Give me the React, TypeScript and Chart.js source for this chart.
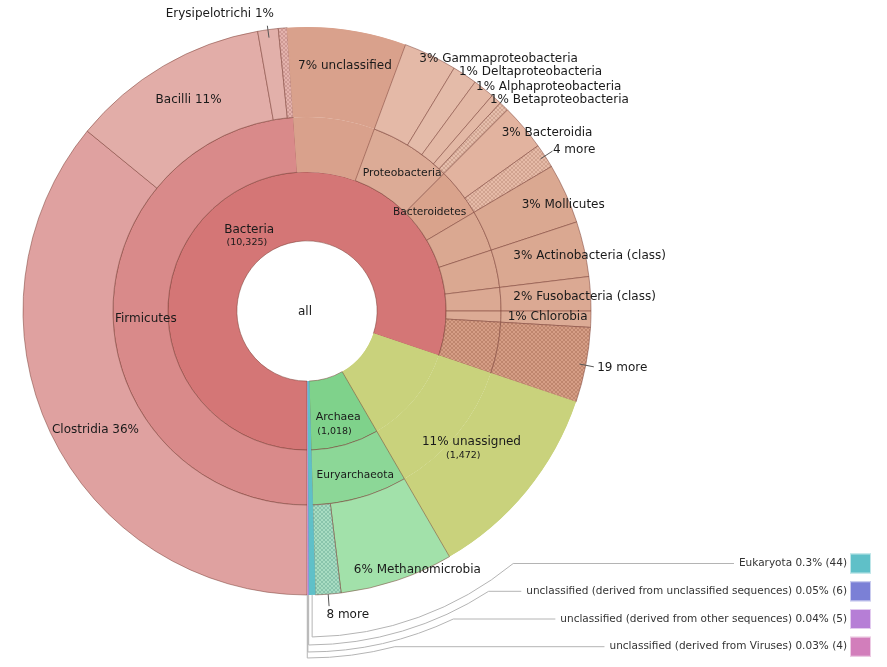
import React, { useEffect, useRef } from "react";
import { Chart, registerables } from "chart.js";

Chart.register(...registerables);

// ---------------- data ----------------
const rootLabel = "all";

const domainNames = [
  "Bacteria",
  "unassigned",
  "Archaea",
  "Eukaryota",
  "unclassified (derived from unclassified sequences)",
  "unclassified (derived from other sequences)",
  "unclassified (derived from Viruses)",
];
const domainCounts = [10325, 1472, 1018, 44, 6, 5, 4];

const phylumNames = [
  "Firmicutes",
  "unclassified",
  "Proteobacteria",
  "Bacteroidetes",
  "Tenericutes",
  "Actinobacteria",
  "Fusobacteria",
  "Chlorobi",
  "19 more",
  "unassigned",
  "Euryarchaeota",
  "Eukaryota",
  "unclassified (derived from unclassified sequences)",
  "unclassified (derived from other sequences)",
  "unclassified (derived from Viruses)",
];
const phylumCounts = [6294, 869, 880, 519, 440, 404, 250, 118, 551, 1472, 1018, 44, 6, 5, 4];

const classNames = [
  "Clostridia",
  "Bacilli",
  "Erysipelotrichi",
  "other Firmicutes",
  "unclassified",
  "Gammaproteobacteria",
  "Deltaproteobacteria",
  "Alphaproteobacteria",
  "Betaproteobacteria",
  "other Proteobacteria",
  "Bacteroidia",
  "4 more",
  "Mollicutes",
  "Actinobacteria (class)",
  "Fusobacteria (class)",
  "Chlorobia",
  "19 more",
  "unassigned",
  "Methanomicrobia",
  "8 more",
  "Eukaryota",
  "unclassified (derived from unclassified sequences)",
  "unclassified (derived from other sequences)",
  "unclassified (derived from Viruses)",
];
const classCounts = [
  4624, 1455, 150, 65, 869, 390, 182, 157, 79, 72, 340, 179, 440, 404, 250, 118, 551, 1472, 830, 188, 44, 6, 5, 4,
];

// key (legend) entries: the tiny top-level slices
const keyNames = [
  "Eukaryota",
  "unclassified (derived from unclassified sequences)",
  "unclassified (derived from other sequences)",
  "unclassified (derived from Viruses)",
];

// ---------------- styles ----------------
const fillColors: Record<string, string> = {
  Bacteria: "#d47676",
  unassigned: "#c9d27c",
  Archaea: "#7fd28b",
  Eukaryota: "#5fc0c8",
  "unclassified (derived from unclassified sequences)": "#7b80d6",
  "unclassified (derived from other sequences)": "#b67ed6",
  "unclassified (derived from Viruses)": "#d27ebb",
  Firmicutes: "#d98a8a",
  unclassified: "#d9a18c",
  Proteobacteria: "#dcab96",
  Bacteroidetes: "#d9a38c",
  Tenericutes: "#daa891",
  Actinobacteria: "#daa891",
  Fusobacteria: "#dba993",
  Chlorobi: "#dcab95",
  "19 more": "#d69e86",
  Euryarchaeota: "#8cd797",
  Clostridia: "#dfa1a0",
  Bacilli: "#e2ada8",
  Erysipelotrichi: "#e2b0aa",
  "other Firmicutes": "#e4b3ad",
  Gammaproteobacteria: "#e4b9a7",
  Deltaproteobacteria: "#e4bba9",
  Alphaproteobacteria: "#e3b8a5",
  Betaproteobacteria: "#e3b8a5",
  "other Proteobacteria": "#e6bfad",
  Bacteroidia: "#e2b39f",
  "4 more": "#e6bba8",
  Mollicutes: "#daa891",
  "Actinobacteria (class)": "#daa891",
  "Fusobacteria (class)": "#dba993",
  Chlorobia: "#dcab95",
  Methanomicrobia: "#a2e1aa",
  "8 more": "#a8dcc2",
};
const hatchLines: Record<string, string> = {
  "other Firmicutes": "rgba(170,110,105,0.35)",
  "other Proteobacteria": "rgba(170,120,100,0.35)",
  "4 more": "rgba(170,120,100,0.35)",
  "19 more": "rgba(150,90,65,0.35)",
  "8 more": "rgba(90,160,140,0.4)",
};
// nodes that continue through several rings: no edge line of their own
const borderless = ["unassigned", "unclassified", "Eukaryota"];
// slivers thinner than a pixel: plain fill only
const slivers = [
  "unclassified (derived from unclassified sequences)",
  "unclassified (derived from other sequences)",
  "unclassified (derived from Viruses)",
];
const EDGE = "rgba(120,60,50,0.5)";
const FONT = "'DejaVu Sans', Verdana, sans-serif";
const INK = "#1a1a1a";

type Place = {
  ds: number;
  name: string;
  kind: "center" | "left" | "leader";
  fmt: "name" | "namePct" | "pctName";
  size: number;
  r?: number;
  da?: number;
  count?: { dx: number; dy: number; size: number };
  r0?: number;
  r1?: number;
  tx?: number;
  ty?: number;
  align?: CanvasTextAlign;
};

// label placement (ds: 0 = class ring, 1 = phylum ring, 2 = domain ring)
const placements: Place[] = [
  { ds: 2, name: "Bacteria", kind: "center", fmt: "name", size: 12, r: 100, da: 0.3, count: { dx: -2.3, dy: 13, size: 9.5 } },
  { ds: 2, name: "Archaea", kind: "center", fmt: "name", size: 11, r: 111, da: -0.5, count: { dx: -3.8, dy: 14, size: 9.5 } },
  { ds: 2, name: "unassigned", kind: "center", fmt: "pctName", size: 12, r: 210, da: -0.84, count: { dx: -8.2, dy: 14.3, size: 9.5 } },
  { ds: 1, name: "Firmicutes", kind: "center", fmt: "name", size: 12, r: 161.4, da: -0.95 },
  { ds: 1, name: "Proteobacteria", kind: "center", fmt: "name", size: 10.8, r: 167.4, da: 2.06 },
  { ds: 1, name: "Bacteroidetes", kind: "center", fmt: "name", size: 10.6, r: 157.2, da: -0.87 },
  { ds: 1, name: "Euryarchaeota", kind: "center", fmt: "name", size: 10.6, r: 171, da: -0.5 },
  { ds: 0, name: "Clostridia", kind: "center", fmt: "namePct", size: 12, r: 242.7, da: -4 },
  { ds: 0, name: "Bacilli", kind: "center", fmt: "namePct", size: 12, r: 242, da: 1.05 },
  { ds: 0, name: "unclassified", kind: "center", fmt: "pctName", size: 12, r: 248, da: 0.65 },
  { ds: 0, name: "Gammaproteobacteria", kind: "left", fmt: "pctName", size: 12, r: 275.6, da: -1.71 },
  { ds: 0, name: "Deltaproteobacteria", kind: "left", fmt: "pctName", size: 12, r: 283, da: -1.27 },
  { ds: 0, name: "Alphaproteobacteria", kind: "left", fmt: "pctName", size: 12, r: 280.9, da: -1.5 },
  { ds: 0, name: "Betaproteobacteria", kind: "left", fmt: "pctName", size: 12, r: 279.3, da: -0.86 },
  { ds: 0, name: "Bacteroidia", kind: "left", fmt: "pctName", size: 12, r: 264, da: -2.15 },
  { ds: 0, name: "Mollicutes", kind: "left", fmt: "pctName", size: 12, r: 239.4, da: -1.86 },
  { ds: 0, name: "Actinobacteria (class)", kind: "left", fmt: "pctName", size: 12, r: 213.5, da: -2.31 },
  { ds: 0, name: "Fusobacteria (class)", kind: "left", fmt: "pctName", size: 12, r: 206.8, da: -0.33 },
  { ds: 0, name: "Chlorobia", kind: "left", fmt: "pctName", size: 12, r: 200.8, da: 0.13 },
  { ds: 0, name: "Methanomicrobia", kind: "center", fmt: "pctName", size: 12, r: 281.5, da: -4.57 },
  { ds: 0, name: "Erysipelotrichi", kind: "leader", fmt: "namePct", size: 12, r0: 276, r1: 288, tx: 6.6, ty: -11.7, align: "right" },
  { ds: 0, name: "4 more", kind: "leader", fmt: "name", size: 12, r0: 278.6, r1: 292.9, tx: 0.5, ty: -1, align: "left" },
  { ds: 0, name: "19 more", kind: "leader", fmt: "name", size: 12, r0: 277.7, r1: 292.2, tx: 3.4, ty: 0.7, align: "left" },
  { ds: 0, name: "8 more", kind: "leader", fmt: "name", size: 12, r0: 284, r1: 296, tx: -2.6, ty: 8.5, align: "left" },
];

const keyRowY = [563.5, 591.3, 619, 646.7];
const keyArcR = [326, 334, 341, 347];
const keyRight = 847;
const keyBoxX = 850;

function hatch(base: string, line: string): CanvasPattern | string {
  const c = document.createElement("canvas");
  c.width = 4;
  c.height = 4;
  const g = c.getContext("2d");
  if (!g) return base;
  g.fillStyle = base;
  g.fillRect(0, 0, 4, 4);
  g.strokeStyle = line;
  g.lineWidth = 1;
  g.beginPath();
  g.moveTo(0, 0);
  g.lineTo(4, 4);
  g.moveTo(4, 0);
  g.lineTo(0, 4);
  g.stroke();
  return g.createPattern(c, "repeat") || base;
}

const sum = (a: number[]) => a.reduce((s, v) => s + v, 0);

const kronaText = {
  id: "kronaText",
  afterDatasetsDraw(chart: any) {
    const ctx: CanvasRenderingContext2D = chart.ctx;
    const total = sum(domainCounts);
    const namesByDs = [classNames, phylumNames, domainNames];
    const countsByDs = [classCounts, phylumCounts, domainCounts];
    const metas = [0, 1, 2].map((i) => chart.getDatasetMeta(i));
    const pct = (v: number) => Math.round((v / total) * 100) + "%";
    const deg = Math.PI / 180;

    ctx.save();
    ctx.fillStyle = INK;
    ctx.textBaseline = "middle";

    // centre label
    const any0 = metas[2].data[0];
    ctx.font = `12px ${FONT}`;
    ctx.textAlign = "center";
    ctx.fillText(rootLabel, any0.x - 2, any0.y + 1);

    for (const p of placements) {
      const idx = namesByDs[p.ds].indexOf(p.name);
      const el: any = metas[p.ds].data[idx];
      const v = countsByDs[p.ds][idx];
      const mid = (el.startAngle + el.endAngle) / 2;
      const text = p.fmt === "name" ? p.name : p.fmt === "namePct" ? `${p.name} ${pct(v)}` : `${pct(v)} ${p.name}`;
      ctx.font = `${p.size}px ${FONT}`;
      ctx.fillStyle = INK;
      if (p.kind === "center" || p.kind === "left") {
        const a = mid + (p.da || 0) * deg;
        const x = el.x + (p.r as number) * Math.cos(a);
        const y = el.y + (p.r as number) * Math.sin(a);
        ctx.textAlign = p.kind === "center" ? "center" : "left";
        ctx.fillText(text, x, y);
        if (p.count) {
          ctx.font = `${p.count.size}px ${FONT}`;
          ctx.fillText(`(${v.toLocaleString("en-US")})`, x + p.count.dx, y + p.count.dy);
        }
      } else {
        const x0 = el.x + (p.r0 as number) * Math.cos(mid);
        const y0 = el.y + (p.r0 as number) * Math.sin(mid);
        const x1 = el.x + (p.r1 as number) * Math.cos(mid);
        const y1 = el.y + (p.r1 as number) * Math.sin(mid);
        ctx.strokeStyle = "#555";
        ctx.lineWidth = 1;
        ctx.beginPath();
        ctx.moveTo(x0, y0);
        ctx.lineTo(x1, y1);
        ctx.stroke();
        ctx.textAlign = p.align || "left";
        ctx.fillText(text, x1 + (p.tx || 0), y1 + (p.ty || 0));
      }
    }

    // key for the tiny slices
    ctx.font = `10.5px ${FONT}`;
    keyNames.forEach((name, i) => {
      const idx = classNames.indexOf(name);
      const el: any = metas[0].data[idx];
      const v = classCounts[idx];
      const p = (v / total) * 100;
      const label = `${name} ${Number(p.toPrecision(1))}% (${v})`;
      const ly = keyRowY[i];
      const tw = ctx.measureText(label).width;
      const textLeft = keyRight - tw;

      const mid = (el.startAngle + el.endAngle) / 2;
      const R0 = el.outerRadius;
      const sx = el.x + R0 * Math.cos(mid);
      const sy = el.y + R0 * Math.sin(mid);
      const R = keyArcR[i];
      const dx = sx - el.x;
      const ey = el.y + Math.sqrt(R * R - dx * dx);
      const a0 = Math.atan2(ey - el.y, dx);
      const a1 = Math.asin((ly - el.y) / R);
      ctx.strokeStyle = "#b4b4b4";
      ctx.lineWidth = 1;
      ctx.beginPath();
      ctx.moveTo(sx, sy);
      ctx.lineTo(sx, ey);
      ctx.arc(el.x, el.y, R, a0, a1, true);
      ctx.lineTo(textLeft - 5, ly);
      ctx.stroke();

      ctx.fillStyle = "#333";
      ctx.textAlign = "left";
      ctx.fillText(label, textLeft, ly);

      ctx.fillStyle = fillColors[name];
      ctx.fillRect(keyBoxX, ly - 10, 21, 20);
      ctx.strokeStyle = "rgba(255,255,255,0.6)";
      ctx.strokeRect(keyBoxX + 0.5, ly - 9.5, 20, 19);
    });

    ctx.restore();
  },
};

export default function App() {
  const ref = useRef<HTMLCanvasElement>(null);

  useEffect(() => {
    const canvas = ref.current;
    if (!canvas) return;
    const bg = (names: string[]) => names.map((n) => (hatchLines[n] ? hatch(fillColors[n], hatchLines[n]) : fillColors[n]));
    const bc = (names: string[]) => names.map((n) => (borderless.includes(n) ? fillColors[n] : EDGE));
    const ba = (names: string[]) => names.map((n) => (borderless.includes(n) ? "inner" : "center"));
    const bw = (names: string[]) => names.map((n) => (slivers.includes(n) ? 0 : 1));
    const ring = (label: string, names: string[], counts: number[], weight: number) =>
      ({
        label,
        data: counts,
        backgroundColor: bg(names),
        borderColor: bc(names),
        borderAlign: ba(names),
        borderWidth: bw(names),
        weight,
      } as any);

    const chart = new Chart(canvas, {
      type: "doughnut",
      data: {
        labels: classNames,
        datasets: [
          ring("class", classNames, classCounts, 90),
          ring("phylum", phylumNames, phylumCounts, 55),
          ring("domain", domainNames, domainCounts, 69),
        ],
      },
      options: {
        responsive: false,
        animation: false,
        events: [],
        rotation: 180,
        circumference: 360,
        cutout: 70,
        radius: 284,
        layout: { padding: { left: 23, top: 27, right: 296, bottom: 72 } },
        plugins: { legend: { display: false }, tooltip: { enabled: false } },
      } as any,
      plugins: [kronaText as any],
    });
    return () => chart.destroy();
  }, []);

  return (
    <div style={{ position: "absolute", left: 0, top: 0, width: 887, height: 667, background: "#fff" }}>
      <canvas ref={ref} width={887} height={667} style={{ display: "block" }} />
    </div>
  );
}
